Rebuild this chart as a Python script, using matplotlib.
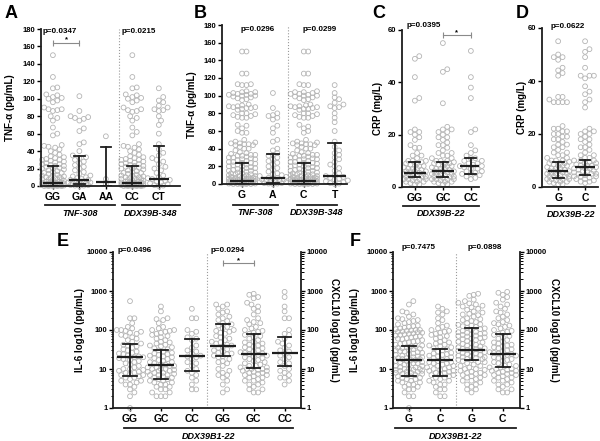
import numpy as np
import matplotlib.pyplot as plt
from matplotlib.ticker import LogLocator, NullFormatter, FixedLocator, FixedFormatter

plt.rcParams['font.family'] = ['Liberation Sans', 'DejaVu Sans']
plt.rcParams['font.weight'] = 'bold'
plt.rcParams['axes.labelweight'] = 'bold'

# ---------------- data ----------------
# panel A : TNF-alpha (pg/mL)
a_cats = ['GG', 'GA', 'AA', 'CC', 'CT']
a_gg = [150, 125, 113, 112, 105, 104, 102, 101, 100, 98, 96, 90, 88, 88, 87, 86, 80, 78, 75, 67, 60, 58, 47, 46, 45,
        44, 42, 40, 38, 36, 34, 33, 32, 31, 30, 30, 29, 28, 27, 26, 25, 25, 24, 23, 23, 22, 21, 20, 20, 19, 18, 17,
        16, 15, 15, 14, 13, 12, 12, 11, 10, 10, 9, 9, 8, 8, 7, 7, 6, 6, 5, 5, 5, 4, 4, 4, 3, 3, 3, 3, 2, 2, 2, 2, 2,
        1, 1, 1, 1, 1, 0.5, 0.5, 0.5, 0.5, 0.5, 0, 0, 0, 0, 0]
a_ga = [103, 86, 80, 79, 78, 77, 75, 66, 63, 50, 48, 40, 35, 33, 32, 30, 28, 26, 24, 22, 20, 18, 16, 14, 12, 11, 10,
        9, 8, 7, 7, 6, 5, 5, 4, 4, 3, 3, 2, 2, 1, 1, 0.5, 0.5, 0]
a_aa = [57, 8, 2]
a_cc = [150, 125, 113, 112, 105, 104, 102, 101, 100, 98, 96, 90, 88, 87, 86, 85, 80, 78, 75, 67, 62, 58, 48, 46, 45,
        44, 42, 40, 38, 36, 34, 33, 32, 31, 30, 30, 29, 28, 27, 26, 25, 25, 24, 23, 23, 22, 21, 20, 20, 19, 18, 17,
        16, 15, 15, 14, 13, 12, 12, 11, 10, 10, 9, 9, 8, 8, 7, 7, 6, 6, 5, 5, 5, 4, 4, 4, 3, 3, 3, 3, 2, 2, 2, 2, 2,
        1, 1, 1, 1, 1, 0.5, 0.5, 0.5, 0.5, 0.5, 0, 0, 0, 0, 0]
a_ct = [112, 102, 98, 96, 92, 90, 88, 87, 86, 80, 75, 70, 60, 48, 42, 38, 35, 32, 30, 28, 25, 22, 20, 18, 15, 12, 10,
        9, 8, 7, 6, 5, 4, 3, 2, 1, 0.5, 0]
a_med = [3, 7, 4.5, 3, 8.5]
a_q1 = [0.5, 2, 0, 0.5, 0.5]
a_q3 = [22.5, 34, 45, 23, 46]

# panel B : TNF-alpha by allele
b_cats = ['G', 'A', 'C', 'T']
b_g = [150, 150, 125, 125, 113, 113, 112, 112, 105, 104, 104, 103, 102, 102, 101, 101, 100, 100, 99, 98, 97, 96, 95,
       90, 89, 88, 88, 87, 87, 86, 86, 85, 84, 80, 80, 79, 78, 77, 76, 75, 75, 67, 66, 63, 60, 58, 58, 50, 48, 47,
       46, 46, 45, 45, 44, 44, 42, 40, 40, 38, 36, 35, 34, 33, 33, 32, 32, 31, 30, 30, 29, 28, 28, 27, 26, 25, 25,
       24, 24, 23, 22, 22, 21, 20, 20, 19, 18, 18, 17, 16, 16, 15, 15, 14, 13, 13, 12, 12, 11, 11, 10, 10, 9, 9, 8,
       8, 8, 7, 7, 7, 6, 6, 6, 5, 5, 5, 5, 4, 4, 4, 4, 3, 3, 3, 3, 3, 2, 2, 2, 2, 2, 1, 1, 1, 1, 1, 1, 0.5, 0.5,
       0.5, 0.5, 0, 0, 0, 0, 0]
b_a = [103, 86, 80, 78, 77, 75, 73, 66, 63, 58, 50, 48, 40, 38, 35, 33, 32, 30, 28, 26, 24, 22, 20, 18, 16, 14, 12,
       11, 10, 9, 8, 7, 7, 6, 5, 5, 4, 4, 3, 3, 2, 2, 1, 1, 0.5, 0.5, 0]
b_c = [150, 150, 125, 125, 113, 112, 112, 105, 104, 104, 103, 102, 102, 101, 100, 100, 99, 98, 97, 96, 95, 90, 89,
       88, 88, 87, 87, 86, 85, 85, 84, 80, 80, 79, 78, 77, 76, 75, 75, 67, 65, 63, 60, 58, 50, 48, 47, 46, 46, 45,
       45, 44, 44, 42, 40, 40, 38, 36, 35, 34, 33, 33, 32, 32, 31, 30, 30, 29, 28, 28, 27, 26, 25, 25, 24, 24, 23,
       22, 22, 21, 20, 20, 19, 18, 18, 17, 16, 16, 15, 15, 14, 13, 13, 12, 12, 11, 11, 10, 10, 9, 9, 8, 8, 8, 7, 7,
       7, 6, 6, 6, 5, 5, 5, 5, 4, 4, 4, 4, 3, 3, 3, 3, 3, 2, 2, 2, 2, 2, 1, 1, 1, 1, 1, 1, 0.5, 0.5, 0.5, 0.5, 0,
       0, 0, 0, 0]
b_t = [112, 103, 98, 96, 92, 90, 88, 87, 86, 80, 75, 70, 60, 48, 42, 38, 35, 33, 30, 28, 25, 22, 20, 18, 15, 12, 10,
       9, 8, 7, 6, 5, 4, 3, 2, 1, 0.5, 0]
b_med = [3.5, 7, 3.5, 8.5]
b_q1 = [0.5, 1, 0.5, 0.5]
b_q3 = [23.5, 34, 23.5, 46]

# panel C : CRP (mg/L)
c_cats = ['GG', 'GC', 'CC']
c_gg = [50, 49, 42, 34, 33, 22, 21, 21, 20, 19, 18, 16, 15, 15, 13, 12, 12, 11, 10, 10, 10, 9.5, 9, 9, 8.5, 8, 8, 8,
        7.5, 7, 7, 7, 6.5, 6, 6, 6, 6, 5.5, 5, 5, 5, 5, 4.5, 4, 4, 4, 4, 3.5, 3, 3, 3, 3, 2.5, 2, 2, 2, 1.5, 1, 1]
c_gc = [55, 45, 44, 32, 23, 22, 22, 21, 21, 20, 19, 19, 18, 17, 16, 16, 15, 14, 13, 13, 12, 12, 11, 11, 10, 10, 10,
        9.5, 9, 9, 9, 8.5, 8, 8, 8, 7.5, 7, 7, 7, 6.5, 6, 6, 6, 6, 5.5, 5, 5, 5, 5, 4.5, 4, 4, 4, 4, 3.5, 3, 3, 3,
        3, 2.5, 2, 2, 2, 1.5, 1, 1]
c_cc = [52, 42, 38, 34, 22, 21, 16, 14, 13, 12, 11, 11, 10, 10, 9, 9, 8.5, 8, 8, 7.5, 7, 7, 6, 6, 5.5, 5, 5, 4.5, 4,
        3.5, 3]
c_med = [5.5, 6, 8]
c_q1 = [4, 4, 5]
c_q3 = [9.5, 9.5, 11]

# panel D : CRP by allele
d_cats = ['G', 'C']
d_g = [55, 50, 49, 49, 48, 45, 44, 43, 42, 34, 34, 33, 32, 32, 32, 32, 23, 22, 22, 21, 21, 20, 20, 19, 19, 18, 18,
       17, 16, 16, 15, 15, 14, 13, 13, 12, 12, 11, 11, 10, 10, 10, 9.5, 9, 9, 9, 8.5, 8, 8, 8, 7.5, 7, 7, 7, 6.5, 6,
       6, 6, 6, 5.5, 5, 5, 5, 5, 4.5, 4, 4, 4, 4, 3.5, 3, 3, 3, 3, 2.5, 2, 2, 2, 1.5, 1, 1]
d_c = [55, 52, 51, 49, 45, 42, 42, 42, 41, 38, 36, 35, 33, 32, 30, 22, 21, 21, 20, 20, 19, 18, 18, 17, 16, 15, 15, 14,
       13, 12, 12, 11, 11, 10, 10, 10, 9.5, 9, 9, 8.5, 8, 8, 8, 7.5, 7, 7, 7, 6.5, 6, 6, 6, 5.5, 5, 5, 5, 4.5, 4, 4,
       4, 3.5, 3, 3, 2.5, 2, 2, 1.5]
d_med = [6, 7.5]
d_q1 = [3.5, 4.5]
d_q3 = [9.5, 10]

# panel E : IL-6 (left three) and CXCL10 (right three), log10
e_cats = ['GG', 'GC', 'CC', 'GG', 'GC', 'CC']
e_il_gg = [550, 200, 200, 150, 120, 110, 100, 100, 95, 90, 85, 80, 75, 70, 65, 60, 55, 50, 45, 42, 40, 38, 35, 32,
           30, 28, 26, 25, 24, 22, 21, 20, 20, 19, 18, 17, 16, 15, 14, 13, 12, 11, 10, 10, 9.5, 9, 8.5, 8, 8, 7.5, 7,
           7, 6.5, 6, 6, 5.5, 5, 5, 4.5, 4, 4, 3.5, 3, 2.5, 2, 1]
e_il_gc = [400, 300, 200, 190, 180, 150, 120, 110, 100, 100, 95, 90, 85, 80, 75, 70, 65, 60, 55, 50, 48, 45, 42, 40,
           38, 36, 34, 32, 30, 28, 26, 25, 24, 23, 22, 21, 20, 19, 18, 17, 16, 15, 15, 14, 13, 13, 12, 12, 11, 11, 10,
           10, 10, 9.5, 9, 9, 8.5, 8, 8, 7.5, 7, 7, 7, 6.5, 6, 6, 5.5, 5.5, 5, 5, 4.5, 4.5, 4, 4, 3.5, 3.5, 3, 3, 2.5,
           2.5, 2, 2, 2]
e_il_cc = [350, 200, 200, 100, 90, 80, 65, 60, 55, 40, 35, 30, 28, 25, 22, 21, 20, 18, 15, 14, 12, 10, 9, 8, 7, 6, 5,
           4, 3, 3]
e_cx_gg = [450, 450, 400, 350, 300, 280, 250, 220, 200, 180, 170, 150, 140, 130, 120, 110, 100, 95, 90, 85, 80, 70,
           65, 60, 55, 50, 48, 45, 42, 40, 38, 35, 32, 30, 28, 26, 25, 24, 22, 21, 20, 18, 16, 15, 14, 12, 10, 9, 8, 7,
           7, 6, 5, 4, 3, 2.5]
e_cx_gc = [850, 800, 700, 650, 500, 450, 400, 350, 300, 250, 200, 180, 160, 150, 140, 120, 110, 100, 95, 90, 85, 80,
           75, 70, 65, 60, 55, 50, 48, 45, 42, 40, 38, 36, 34, 32, 30, 28, 27, 26, 25, 24, 23, 22, 21, 20, 19, 18, 17,
           16, 15, 14, 13, 12, 12, 11, 11, 10, 10, 10, 9.5, 9, 9, 8.5, 8, 8, 7.5, 7, 7, 6.5, 6, 6, 5.5, 5, 5, 4.5, 4,
           4, 3.5, 3, 3, 2.5, 2.5]
e_cx_cc = [950, 700, 400, 300, 200, 200, 100, 80, 75, 60, 50, 45, 40, 35, 30, 28, 25, 22, 20, 18, 15, 14, 12, 10, 9,
           8, 7, 6, 6, 5, 4]
e_med = [20, 13, 21, 40, 24, 26]
e_q1 = [6.5, 5.5, 9, 21, 10.5, 12]
e_q3 = [45, 30, 58, 145, 80, 68]

# panel F : IL-6 / CXCL10 by allele
f_cats = ['G', 'C', 'G', 'C']
f_il_g = [550, 450, 300, 280, 250, 220, 200, 190, 180, 170, 160, 150, 140, 130, 125, 120, 115, 110, 105, 100, 100, 98,
          95, 92, 90, 88, 85, 82, 80, 78, 75, 72, 70, 68, 65, 62, 60, 58, 55, 52, 50, 48, 46, 44, 42, 40, 39, 38, 36,
          35, 34, 33, 32, 31, 30, 29, 28, 27, 26, 25, 24, 23, 22, 21, 20, 20, 19, 19, 18, 18, 17, 17, 16, 16, 15, 15,
          14, 14, 13, 13, 12, 12, 11, 11, 10, 10, 10, 9.5, 9.5, 9, 9, 8.5, 8.5, 8, 8, 7.5, 7.5, 7, 7, 6.5, 6.5, 6, 6,
          5.5, 5.5, 5, 5, 4.5, 4.5, 4, 4, 3.5, 3.5, 3, 3, 2.5, 2, 2, 1]
f_il_c = [400, 350, 300, 280, 250, 200, 180, 150, 130, 120, 110, 100, 95, 90, 85, 80, 75, 70, 65, 60, 55, 50, 48, 45,
          42, 40, 38, 36, 34, 32, 30, 28, 26, 25, 24, 23, 22, 21, 20, 19, 18, 17, 16, 15, 15, 14, 14, 13, 12, 12, 11,
          11, 10, 10, 9.5, 9, 9, 8.5, 8, 8, 7.5, 7, 7, 6.5, 6, 6, 5.5, 5, 5, 4.5, 4, 4, 3.5, 3, 3, 2.5, 2, 2]
f_cx_g = [850, 800, 750, 600, 550, 500, 480, 450, 420, 400, 380, 350, 330, 300, 280, 260, 250, 240, 220, 200, 190, 180,
          170, 160, 150, 140, 135, 130, 125, 120, 115, 110, 105, 100, 95, 90, 88, 85, 82, 80, 78, 75, 72, 70, 68, 65,
          62, 60, 58, 55, 52, 50, 48, 46, 44, 42, 40, 38, 36, 35, 34, 33, 32, 31, 30, 29, 28, 27, 26, 25, 24, 23, 22,
          21, 20, 20, 19, 18, 18, 17, 17, 16, 15, 15, 14, 13, 12, 12, 11, 10, 10, 9.5, 9, 8.5, 8, 8, 7.5, 7, 7, 6.5, 6,
          6, 5.5, 5, 5, 4.5, 4, 4, 3.5, 3, 3, 2.5]
f_cx_c = [950, 900, 800, 700, 600, 500, 450, 400, 350, 300, 280, 250, 220, 200, 180, 160, 150, 140, 130, 120, 110, 100,
          95, 90, 85, 80, 75, 70, 65, 60, 55, 50, 48, 45, 42, 40, 38, 36, 34, 32, 30, 28, 27, 26, 25, 24, 23, 22, 21,
          20, 19, 18, 17, 16, 15, 14, 13, 12, 12, 11, 11, 10, 10, 9.5, 9, 9, 8.5, 8, 8, 7.5, 7, 7, 6.5, 6, 6, 5.5, 5, 5,
          4.5, 4, 4, 3.5, 3, 3, 2.5, 2.5]
f_med = [17, 17, 30, 24]
f_q1 = [6.5, 6.5, 17, 11.5]
f_q3 = [40, 33, 115, 78]

# ---------------- drawing ----------------
W, H = 600, 441
fig = plt.figure(figsize=(W / 100, H / 100), dpi=100)
DOT = '#b4b4b4'
INK = '#1e1e1e'


def px_axes(l, t, r, b):
    return fig.add_axes([l / W, 1 - b / H, (r - l) / W, (b - t) / H])


def swarm(ax, x0, vals, d=4.4, frac=0.45):
    # simple beeswarm in pixel space, positions only
    pts = ax.transData.transform(np.column_stack([np.full(len(vals), float(x0)), vals]))
    step = ax.transData.transform([[1, 1]])[0, 0] - ax.transData.transform([[0, 1]])[0, 0]
    maxw = frac * step
    xc = pts[0, 0]
    ys = pts[:, 1]
    placed = []
    offs = np.zeros(len(vals))
    for i in np.argsort(ys):
        y = ys[i]
        best, bestd, bestoff = None, -1, 0
        k = 0
        while True:
            off = ((k + 1) // 2) * d * 0.5 * (1 if k % 2 else -1)
            if abs(off) > maxw:
                break
            md = min([np.hypot(off - px, y - py) for px, py in placed if abs(y - py) < d] or [99])
            if md >= d:
                best = off
                break
            if md > bestd:
                bestd, bestoff = md, off
            k += 1
        if best is None:
            best = bestoff
        offs[i] = best
        placed.append((best, y))
    back = ax.transData.inverted().transform(np.column_stack([xc + offs, ys]))
    return back[:, 0]


def panel(ax, groups, med, q1, q3, cats, xlim, ylim, log=False, half=0.38, cap=0.2):
    ax.set_xlim(xlim)
    if log:
        ax.set_yscale('log')
    ax.set_ylim(ylim)
    for i, vals in enumerate(groups):
        xs = swarm(ax, i, vals)
        ax.scatter(xs, vals, s=12, facecolors='none', edgecolors=DOT, linewidths=0.6, clip_on=False, zorder=2)
        ax.plot([i - half, i + half], [med[i], med[i]], color=INK, lw=1.6, zorder=3, solid_capstyle='butt')
        ax.plot([i, i], [q1[i], q3[i]], color=INK, lw=1.3, zorder=3)
        ax.plot([i - cap, i + cap], [q1[i], q1[i]], color=INK, lw=1.3, zorder=3)
        ax.plot([i - cap, i + cap], [q3[i], q3[i]], color=INK, lw=1.3, zorder=3)
    ax.set_xticks(range(len(cats)))
    ax.set_xticklabels(cats, fontsize=7.5, fontweight='bold')
    ax.spines['top'].set_visible(False)
    ax.spines['right'].set_visible(False)
    for s in ('left', 'bottom'):
        ax.spines[s].set_linewidth(1.3)
        ax.spines[s].set_color(INK)
    ax.tick_params(axis='x', length=2, width=1, pad=2)
    ax.tick_params(axis='y', length=3, width=1, labelsize=5.5, pad=1)


def group_line(ax, x0, x1, text, yl, yt):
    tr = ax.get_xaxis_transform()
    ax.plot([x0, x1], [yl, yl], transform=tr, color=INK, lw=1.3, clip_on=False)
    ax.text((x0 + x1) / 2, yt, text, transform=tr, ha='center', va='center', style='italic',
            fontsize=6.5, fontweight='bold')


def bracket(ax, x0, x1, y):
    ax.plot([x0, x1], [y, y], color='#8a8a8a', lw=0.8, clip_on=False)
    ax.plot([x0, x1], [y, y], ls='none', marker='|', ms=4, mew=0.8, color='#8a8a8a', clip_on=False)
    ax.annotate('*', ((x0 + x1) / 2, y), xytext=(0, -0.5), textcoords='offset points',
                ha='center', va='bottom', fontsize=5.5)


def ptext(ax, x, y, s, ha='center'):
    ax.text(x, y, s, transform=ax.get_xaxis_transform(), ha=ha, va='center', fontsize=5.8, fontweight='bold')


# A
axA = px_axes(41, 29, 180, 186)
panel(axA, [a_gg, a_ga, a_aa, a_cc, a_ct], a_med, a_q1, a_q3, a_cats, (-0.45, 4.8), (0, 180))
axA.set_yticks(range(0, 181, 20))
axA.axvline(2.5, color='#9a9a9a', ls=':', lw=0.8)
axA.set_ylabel('TNF-α (pg/mL)', fontsize=7)
axA.yaxis.set_label_coords(-0.19, 0.5)
ptext(axA, -0.4, 0.985, 'p=0.0347', ha='left')
ptext(axA, 2.6, 0.985, 'p=0.0215', ha='left')
bracket(axA, 0, 1, 164)
group_line(axA, -0.3, 2.35, 'TNF-308', -0.121, -0.172)
group_line(axA, 2.6, 4.8, 'DDX39B-348', -0.121, -0.172)

# B
axB = px_axes(222, 25, 347, 184)
panel(axB, [b_g, b_a, b_c, b_t], b_med, b_q1, b_q3, b_cats, (-0.65, 3.4), (0, 180))
axB.set_yticks(range(0, 181, 20))
axB.axvline(1.5, color='#9a9a9a', ls=':', lw=0.8)
axB.set_ylabel('TNF-α (pg/mL)', fontsize=7)
axB.yaxis.set_label_coords(-0.2, 0.5)
ptext(axB, 0.5, 0.97, 'p=0.0296')
ptext(axB, 2.5, 0.97, 'p=0.0299')
group_line(axB, -0.3, 1.17, 'TNF-308', -0.13, -0.18)
group_line(axB, 1.78, 3.07, 'DDX39B-348', -0.13, -0.18)

# C
axC = px_axes(402, 30, 479, 187)
panel(axC, [c_gg, c_gc, c_cc], c_med, c_q1, c_q3, c_cats, (-0.46, 2.29), (0, 60))
axC.set_yticks([0, 20, 40, 60])
axC.set_ylabel('CRP (mg/L)', fontsize=7)
axC.yaxis.set_label_coords(-0.25, 0.5)
ptext(axC, 0.33, 1.03, 'p=0.0395')
bracket(axC, 1, 2, 58)
group_line(axC, -0.43, 2.29, 'DDX39B-22', -0.118, -0.17)

# D
axD = px_axes(542, 28, 598, 187)
panel(axD, [d_g, d_c], d_med, d_q1, d_q3, d_cats, (-0.6, 1.48), (0, 60))
axD.set_yticks([0, 20, 40, 60])
axD.set_ylabel('CRP (mg/L)', fontsize=7)
axD.yaxis.set_label_coords(-0.27, 0.5)
ptext(axD, 0.37, 1.01, 'p=0.0622')
group_line(axD, -0.4, 1.37, 'DDX39B-22', -0.118, -0.17)


def log_axes(ax, right_label, rpos):
    dec = [1, 10, 100, 1000, 10000]
    ax2 = ax.twinx()
    ax2.set_yscale('log')
    ax2.set_ylim(ax.get_ylim())
    for a in (ax, ax2):
        a.yaxis.set_major_locator(FixedLocator(dec))
        a.yaxis.set_major_formatter(FixedFormatter([str(v) for v in dec]))
        a.yaxis.set_minor_locator(LogLocator(base=10, subs=np.arange(2, 10)))
        a.yaxis.set_minor_formatter(NullFormatter())
        a.tick_params(axis='y', which='minor', length=1.8, width=0.7)
        a.tick_params(axis='y', which='major', length=3, width=1, labelsize=5.5, pad=1)
    for k, s in ax2.spines.items():
        s.set_visible(k == 'right')
    ax2.spines['right'].set_linewidth(1.3)
    ax2.spines['right'].set_color(INK)
    ax2.set_ylabel(right_label, fontsize=7, rotation=270, va='center')
    ax2.yaxis.set_label_coords(rpos, 0.5)


# E
axE = px_axes(113, 252, 301, 408)
panel(axE, [e_il_gg, e_il_gc, e_il_cc, e_cx_gg, e_cx_gc, e_cx_cc], e_med, e_q1, e_q3, e_cats,
      (-0.55, 5.53), (1, 10000), log=True, half=0.42, cap=0.22)
axE.axvline(2.5, color='#9a9a9a', ls=':', lw=0.8)
axE.set_ylabel('IL-6 log10 (pg/mL)', fontsize=7)
axE.yaxis.set_label_coords(-0.15, 0.5)
log_axes(axE, 'CXCL10 log10 (pg/mL)', 1.175)
ptext(axE, 0.15, 1.01, 'p=0.0496')
ptext(axE, 3.16, 1.01, 'p=0.0294')
bracket(axE, 3, 4, 5200)
group_line(axE, -0.2, 5.26, 'DDX39B1-22', -0.13, -0.18)

# F
axF = px_axes(393, 252, 520, 408)
panel(axF, [f_il_g, f_il_c, f_cx_g, f_cx_c], f_med, f_q1, f_q3, f_cats,
      (-0.51, 3.55), (1, 10000), log=True, half=0.42, cap=0.22)
axF.axvline(1.5, color='#9a9a9a', ls=':', lw=0.8)
axF.set_ylabel('IL-6 log10 (pg/mL)', fontsize=7)
axF.yaxis.set_label_coords(-0.26, 0.5)
log_axes(axF, 'CXCL10 log10 (pg/mL)', 1.27)
ptext(axF, 0.32, 1.026, 'p=0.7475')
ptext(axF, 2.43, 1.026, 'p=0.0898')
group_line(axF, -0.45, 3.42, 'DDX39B1-22', -0.13, -0.18)

# panel letters
for lab, x, y in [('A', 11, 14), ('B', 200, 14), ('C', 379, 14), ('D', 522, 14), ('E', 63, 242), ('F', 355, 242)]:
    fig.text(x / W, 1 - y / H, lab, fontsize=13, fontweight='bold', ha='center', va='center')

fig.savefig('out.png', dpi=100, facecolor='white')
